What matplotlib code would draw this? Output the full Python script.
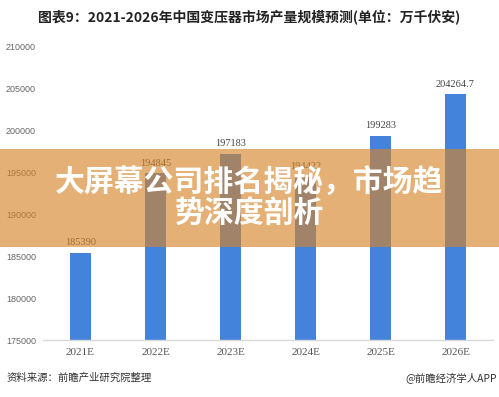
import matplotlib
matplotlib.use("Agg")
import matplotlib.pyplot as plt
from matplotlib.patches import Rectangle

plt.rcParams['font.family'] = ['Noto Sans CJK SC', 'DejaVu Sans']

categories = ["2021E", "2022E", "2023E", "2024E", "2025E", "2026E"]
values = [185390, 194845, 197183, 194422, 199283, 204264.7]
value_labels = ["185390", "194845", "197183", "194422", "199283", "204264.7"]
yticks = [175000, 180000, 185000, 190000, 195000, 200000, 205000, 210000]

title = "图表9：2021-2026年中国变压器市场产量规模预测(单位：万千伏安)"
source_left = "资料来源：前瞻产业研究院整理"
source_right = "@前瞻经济学人APP"
banner_line1 = "大屏幕公司排名揭秘，市场趋"
banner_line2 = "势深度剖析"

W, H = 499, 397
fig = plt.figure(figsize=(W / 100, H / 100), dpi=100)
ax = fig.add_axes([43 / W, (H - 340) / H, (493 - 43) / W, (340 - 46) / H])

x = list(range(len(categories)))
ax.bar(x, values, width=0.27, color="#4383DC", zorder=2)
ax.set_xlim(-0.5, len(categories) - 0.5)
ax.set_ylim(175000, 210000)
ax.set_yticks(yticks)
ax.set_yticklabels([str(v) for v in yticks], fontsize=6.5, color="#666666",
                   family=["Liberation Sans"])
ax.set_xticks(x)
ax.set_xticklabels(categories, fontsize=8, color="#555555", family=["Liberation Serif"])
ax.tick_params(axis='both', length=0)
ax.tick_params(axis='y', pad=5)
ax.tick_params(axis='x', pad=6)
for s in ["top", "right", "left"]:
    ax.spines[s].set_visible(False)
ax.spines["bottom"].set_color("#d9d9d9")
ax.spines["bottom"].set_linewidth(1.0)

for xi, v, lab in zip(x, values, value_labels):
    ax.annotate(lab, (xi, v), xytext=(0, 4), textcoords="offset points",
                ha="center", va="bottom", fontsize=7.5, color="#444444",
                family=["Liberation Serif"])

# Title
fig.text(0.5, 1 - 17 / H, title, ha="center", va="center", fontsize=10,
         fontweight="bold", color="#222222")

# Source lines
fig.text(7 / W, 1 - 378 / H, source_left, ha="left", va="center", fontsize=7.5,
         color="#333333")
fig.text(497 / W, 1 - 378 / H, source_right, ha="right", va="center", fontsize=7.5,
         color="#333333")

# Banner overlay
fig.patches.append(Rectangle((0, 1 - 247 / H), 1, (247 - 149) / H,
                             transform=fig.transFigure, facecolor=(213 / 255, 132 / 255, 41 / 255),
                             alpha=0.64, edgecolor="none", zorder=5))
fig.text(0.5, 1 - 183 / H, banner_line1, ha="center", va="center", fontsize=21.5,
         fontweight="bold", color="white", zorder=6)
fig.text(0.5, 1 - 214 / H, banner_line2, ha="center", va="center", fontsize=21.5,
         fontweight="bold", color="white", zorder=6)

fig.savefig("out.png", dpi=100)
